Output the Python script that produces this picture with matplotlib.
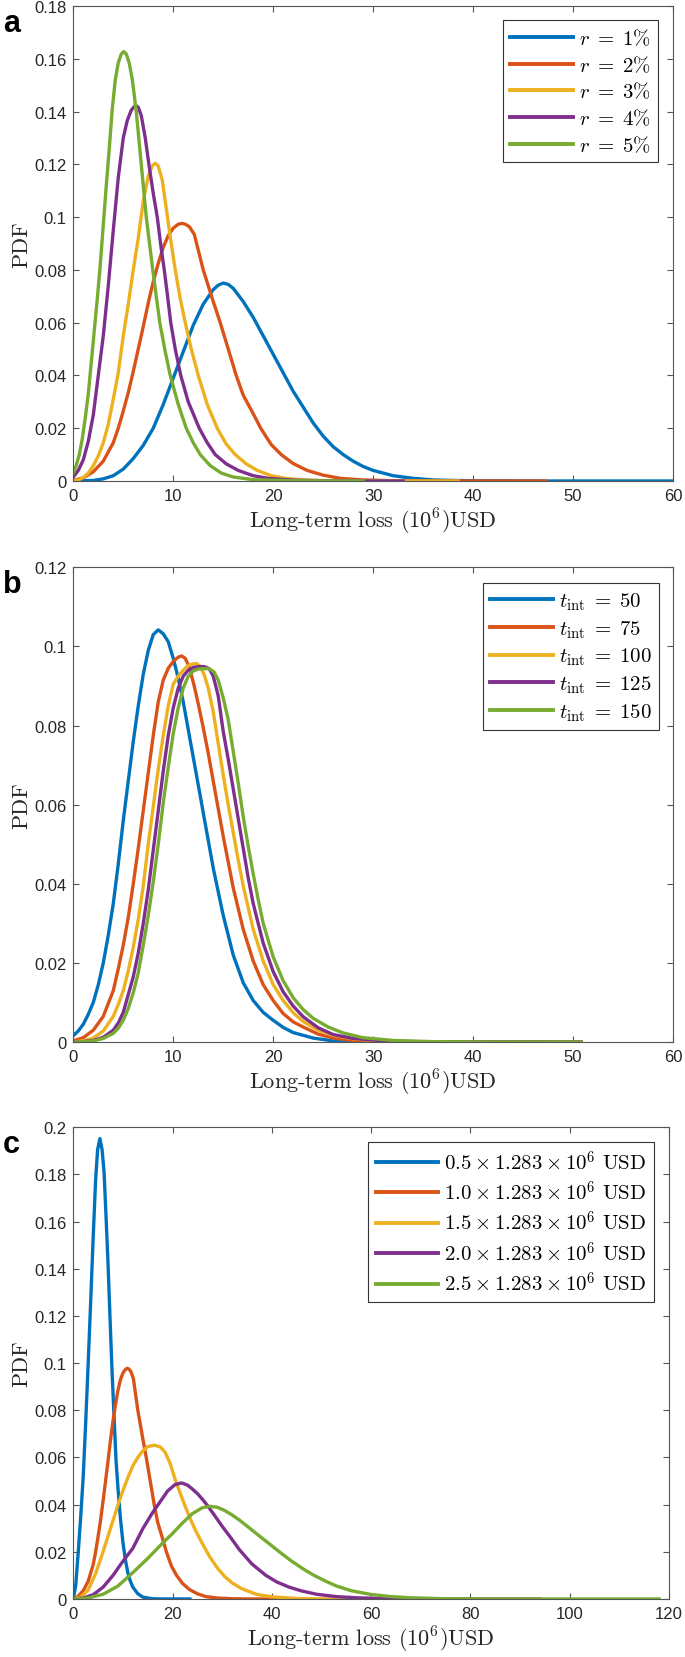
import numpy as np
import matplotlib
matplotlib.use("Agg")
import matplotlib.pyplot as plt
from matplotlib.ticker import FuncFormatter

plt.rcParams["mathtext.fontset"] = "cm"
plt.rcParams["font.family"] = ["Liberation Sans", "DejaVu Sans"]

# ---- panel a: discount rate r ----
a_labels = [r"$r\;=\;1\%$", r"$r\;=\;2\%$", r"$r\;=\;3\%$", r"$r\;=\;4\%$", r"$r\;=\;5\%$"]
a_x_r1 = [0, 2, 3, 4, 5, 6, 7, 8, 9, 10, 11, 12, 13, 14, 14.5, 15, 15.5, 16, 17, 18, 19, 20, 21, 22, 23,
          24, 25, 26, 27, 28, 29, 30, 32, 34, 36, 38, 40, 47.3, 60]
a_y_r1 = [0, 0.0002, 0.0008, 0.002, 0.0045, 0.0085, 0.0135, 0.020, 0.029, 0.039, 0.049, 0.059, 0.067,
          0.0725, 0.0742, 0.075, 0.0745, 0.073, 0.068, 0.062, 0.055, 0.048, 0.041, 0.034, 0.028, 0.022,
          0.017, 0.013, 0.010, 0.0075, 0.0055, 0.004, 0.002, 0.001, 0.0004, 0.0002, 0.0001, 0, 0]
a_x_r2 = [0, 1, 2, 3, 4, 4.5, 5, 5.5, 6, 6.5, 7, 7.5, 8, 8.5, 9, 9.5, 10, 10.5, 10.85, 11.2, 11.6, 12.1,
          12.5, 13, 13.5, 14, 14.7, 15.5, 16.3, 17, 18, 18.75, 19.8, 20.8, 22, 23.4, 25, 26.7, 29, 32, 36, 47.3]
a_y_r2 = [0.0002, 0.0012, 0.0035, 0.0075, 0.0145, 0.020, 0.0265, 0.0335, 0.0415, 0.050, 0.0585, 0.0675,
          0.0755, 0.0825, 0.0885, 0.093, 0.0958, 0.0973, 0.0976, 0.0973, 0.0964, 0.0935, 0.0875, 0.080,
          0.074, 0.068, 0.060, 0.050, 0.040, 0.0325, 0.0255, 0.020, 0.0138, 0.010, 0.0066, 0.004, 0.0022,
          0.001, 0.0004, 0.0001, 0, 0]
a_x_r3 = [0, 0.5, 1, 1.5, 2, 2.5, 3, 3.5, 4, 4.5, 5, 5.5, 6, 6.5, 7, 7.5, 7.9, 8.2, 8.5, 8.9, 9.4, 9.8,
          10.2, 10.7, 11.2, 11.8, 12.5, 13.4, 14.4, 15.3, 16.2, 17.3, 18.4, 19.8, 21.2, 23, 25, 28, 32, 38.5]
a_y_r3 = [0, 0.0004, 0.0013, 0.003, 0.0058, 0.0095, 0.0145, 0.0215, 0.031, 0.041, 0.055, 0.067, 0.080,
          0.092, 0.106, 0.1155, 0.1195, 0.1204, 0.1193, 0.114, 0.1006, 0.090, 0.080, 0.069, 0.060, 0.050,
          0.040, 0.029, 0.020, 0.014, 0.010, 0.0065, 0.004, 0.002, 0.001, 0.0004, 0.00015, 0.00003, 0, 0]
a_x_r4 = [0, 0.5, 1, 1.5, 2, 2.5, 3, 3.5, 4, 4.5, 5, 5.4, 5.8, 6.1, 6.3, 6.5, 6.8, 7.2, 7.6, 8, 8.4, 8.8,
          9.1, 9.4, 9.75, 10.2, 10.75, 11.5, 12.6, 13.4, 14.2, 15.3, 16.5, 18, 19.5, 22, 25, 29, 33]
a_y_r4 = [0.0015, 0.004, 0.008, 0.015, 0.025, 0.040, 0.055, 0.074, 0.095, 0.115, 0.130, 0.1366, 0.1405,
          0.1419, 0.1422, 0.1416, 0.1385, 0.130, 0.119, 0.109, 0.100, 0.088, 0.080, 0.071, 0.060, 0.050,
          0.040, 0.030, 0.020, 0.0145, 0.010, 0.0065, 0.004, 0.002, 0.001, 0.0003, 0.0001, 0, 0]
a_x_r5 = [0, 0.3, 0.6, 0.9, 1.2, 1.5, 1.8, 2.1, 2.4, 2.7, 3.0, 3.3, 3.6, 3.9, 4.2, 4.5, 4.8, 5.05, 5.3, 5.6,
          5.9, 6.3, 6.8, 7.3, 7.95, 8.65, 9.2, 9.7, 10.5, 11.3, 12, 12.7, 13.7, 14.8, 16, 18, 22, 29]
a_y_r5 = [0.003, 0.006, 0.010, 0.016, 0.024, 0.033, 0.045, 0.057, 0.069, 0.082, 0.097, 0.112, 0.126,
          0.141, 0.152, 0.1585, 0.1618, 0.1627, 0.1618, 0.1583, 0.1522, 0.140, 0.120, 0.100, 0.080, 0.060,
          0.049, 0.040, 0.029, 0.020, 0.0145, 0.010, 0.0058, 0.003, 0.0015, 0.0005, 0.0001, 0]

# ---- panel b: intervention time ----
b_labels = [r"$t_{\mathrm{int}}\;=\;50$", r"$t_{\mathrm{int}}\;=\;75$", r"$t_{\mathrm{int}}\;=\;100$",
            r"$t_{\mathrm{int}}\;=\;125$", r"$t_{\mathrm{int}}\;=\;150$"]
b_x_50 = [0, 0.5, 1, 1.5, 2, 2.5, 3, 3.5, 4, 4.5, 5, 5.5, 6, 6.5, 7, 7.5, 8, 8.5, 9, 9.5, 10, 10.5, 11,
          11.5, 12, 12.5, 13, 13.5, 14, 14.5, 15, 16, 17, 18, 19, 20, 21, 22, 24, 26, 30, 50.8]
b_y_50 = [0.0016, 0.0028, 0.0045, 0.007, 0.010, 0.0145, 0.020, 0.027, 0.035, 0.045, 0.056, 0.066, 0.076,
          0.085, 0.093, 0.099, 0.1030, 0.1042, 0.1032, 0.1012, 0.097, 0.092, 0.086, 0.079, 0.072, 0.065,
          0.058, 0.051, 0.044, 0.038, 0.032, 0.022, 0.015, 0.0105, 0.0075, 0.0055, 0.0037, 0.0024, 0.001,
          0.0003, 0, 0]
b_x_75 = [0, 1, 2, 3, 4, 4.5, 5, 5.5, 6, 6.5, 7, 7.5, 8, 8.5, 9, 9.5, 10, 10.5, 10.85, 11.2, 11.6, 12.1,
          12.5, 13, 13.5, 14, 14.5, 15, 15.5, 16, 17, 18, 19, 20, 21, 22, 23, 24.5, 26, 28, 32, 36, 50.8]
b_y_75 = [0.0003, 0.0011, 0.003, 0.0065, 0.013, 0.0185, 0.0245, 0.0315, 0.040, 0.049, 0.0585, 0.068,
          0.0775, 0.086, 0.0915, 0.0945, 0.0962, 0.0973, 0.0976, 0.0970, 0.0948, 0.090, 0.0855, 0.0795,
          0.073, 0.066, 0.059, 0.052, 0.0455, 0.039, 0.0285, 0.0205, 0.0145, 0.0105, 0.0072, 0.0051, 0.0038,
          0.002, 0.001, 0.0004, 0.0001, 0, 0]
b_x_100 = [0, 1, 2, 3, 4, 4.5, 5, 5.5, 6, 6.5, 7, 7.5, 8, 8.5, 9, 9.5, 10, 10.5, 11, 11.5, 12, 12.3, 12.7,
           13.1, 13.5, 14, 14.5, 15, 15.5, 16, 16.5, 17, 18, 19, 20, 21, 22, 23, 24.5, 26, 28, 31, 35, 50.8]
b_y_100 = [0, 0.0003, 0.001, 0.0028, 0.0065, 0.0095, 0.013, 0.018, 0.024, 0.031, 0.0395, 0.050, 0.0595,
           0.069, 0.0775, 0.085, 0.0905, 0.0925, 0.094, 0.0952, 0.0956, 0.0957, 0.095, 0.0928, 0.0895,
           0.0835, 0.0755, 0.0675, 0.060, 0.053, 0.046, 0.0395, 0.0285, 0.0205, 0.0145, 0.0105, 0.0074,
           0.0052, 0.003, 0.0017, 0.0008, 0.0002, 0.00005, 0]
b_x_125 = [0, 1, 2, 3, 4, 4.5, 5, 5.5, 6, 6.5, 7, 7.5, 8, 8.5, 9, 9.5, 10, 10.5, 11, 11.5, 12, 12.5, 13.1,
           13.6, 14, 14.5, 15, 15.5, 16, 16.5, 17, 17.5, 18, 19, 20, 21, 22, 23, 24.5, 26, 28, 31, 35, 50.8]
b_y_125 = [0, 0.0001, 0.0004, 0.0012, 0.003, 0.0048, 0.0075, 0.012, 0.0165, 0.0225, 0.030, 0.0385, 0.0485,
           0.0585, 0.0685, 0.0775, 0.0845, 0.0895, 0.0925, 0.094, 0.0947, 0.0949, 0.0949, 0.0944, 0.0925,
           0.0875, 0.0785, 0.0715, 0.064, 0.0565, 0.049, 0.0415, 0.035, 0.025, 0.0178, 0.0127, 0.0091,
           0.0064, 0.0036, 0.0019, 0.0009, 0.0003, 0.00007, 0]
b_x_150 = [0, 1, 2, 3, 4, 4.5, 5, 5.5, 6, 6.5, 7, 7.5, 8, 8.5, 9, 9.5, 10, 10.5, 11, 11.5, 12, 12.5, 13,
           13.6, 14.1, 14.5, 15, 15.5, 16, 16.5, 17, 17.5, 18, 18.5, 19, 20, 21, 22, 23, 24, 25.5, 27, 29,
           32, 36, 42, 50.8]
b_y_150 = [0, 0.0001, 0.0003, 0.0009, 0.0022, 0.0035, 0.0055, 0.0085, 0.0125, 0.0175, 0.0245, 0.032,
           0.0405, 0.050, 0.0605, 0.0695, 0.078, 0.0845, 0.0895, 0.0925, 0.0938, 0.0943, 0.0944, 0.0944,
           0.0935, 0.0915, 0.087, 0.0815, 0.0735, 0.0655, 0.057, 0.0495, 0.0425, 0.036, 0.030, 0.0215,
           0.0155, 0.0112, 0.0082, 0.006, 0.0038, 0.0023, 0.0011, 0.0004, 0.0001, 0, 0]

# ---- panel c: cost scaling ----
c_labels = [r"$0.5 \times 1.283 \times 10^6$ USD", r"$1.0 \times 1.283 \times 10^6$ USD",
            r"$1.5 \times 1.283 \times 10^6$ USD", r"$2.0 \times 1.283 \times 10^6$ USD",
            r"$2.5 \times 1.283 \times 10^6$ USD"]
c_x_05 = [0, 0.5, 1, 1.5, 2, 2.5, 3, 3.5, 4, 4.5, 4.9, 5.36, 5.8, 6.2, 6.6, 7, 7.4, 7.8, 8.2, 8.6, 9, 9.5,
          10, 10.5, 11, 11.5, 12, 13, 14, 16, 18, 23.5]
c_y_05 = [0, 0.006, 0.020, 0.035, 0.052, 0.075, 0.100, 0.126, 0.153, 0.178, 0.1905, 0.1952, 0.1905, 0.181,
          0.162, 0.142, 0.119, 0.097, 0.078, 0.059, 0.047, 0.034, 0.024, 0.0165, 0.011, 0.0075, 0.005,
          0.0022, 0.0008, 0.0001, 0, 0]
c_x_10 = [0, 1, 2, 3, 4, 4.5, 5, 5.5, 6, 6.5, 7, 7.5, 8, 8.5, 9, 9.5, 10, 10.5, 10.85, 11.2, 11.6, 12.1,
          12.5, 13, 13.5, 14, 14.7, 15.5, 16.3, 17, 18, 18.75, 19.8, 20.8, 22, 23.4, 25, 26.7, 29, 32, 36, 47]
c_y_10 = [0, 0.0012, 0.0035, 0.0075, 0.0145, 0.020, 0.0265, 0.0335, 0.0415, 0.050, 0.0585, 0.0675,
          0.0755, 0.0825, 0.0885, 0.093, 0.0958, 0.0973, 0.0978, 0.0975, 0.0964, 0.0935, 0.0875, 0.080,
          0.074, 0.068, 0.060, 0.050, 0.040, 0.0325, 0.0255, 0.020, 0.0138, 0.010, 0.0066, 0.004, 0.0022,
          0.001, 0.0004, 0.0001, 0, 0]
c_x_15 = [0, 1.5, 3, 4.5, 6, 7.5, 9, 10, 11, 12, 13, 14, 15, 16.3, 17.5, 18.5, 19.5, 20.5, 21.5, 22.5, 23.5,
          24.5, 26, 27.5, 29, 30.5, 32, 34, 37, 40, 45, 50, 70.5]
c_y_15 = [0, 0.0008, 0.0038, 0.0108, 0.020, 0.030, 0.0398, 0.046, 0.0515, 0.0565, 0.060, 0.0628, 0.0646,
          0.0652, 0.0645, 0.0622, 0.0575, 0.0508, 0.045, 0.0395, 0.0343, 0.0296, 0.0235, 0.0178, 0.0132,
          0.0095, 0.0068, 0.0043, 0.0019, 0.0009, 0.0002, 0.00005, 0]
c_x_20 = [0, 2, 4, 6, 8, 10, 12, 14, 16, 17.5, 19, 20.5, 21.8, 23, 24, 25, 26, 27, 28.5, 30, 31.5, 33.5,
          36, 38.8, 41, 43.5, 46, 49, 53, 57, 62, 70, 94]
c_y_20 = [0, 0.0004, 0.0018, 0.005, 0.010, 0.016, 0.0215, 0.0298, 0.0367, 0.0412, 0.0458, 0.0485, 0.0492,
          0.0483, 0.0466, 0.0447, 0.0423, 0.0397, 0.0353, 0.0308, 0.0266, 0.0208, 0.0148, 0.010, 0.0072,
          0.005, 0.0034, 0.002, 0.001, 0.0005, 0.0002, 0, 0]
c_x_25 = [0, 3, 6, 9, 12, 15, 18, 20, 22, 24, 26, 27.5, 29, 30.5, 32, 33.5, 35, 37, 39, 41.5, 44, 46.5,
          48.5, 51, 53, 56, 60, 64, 68, 75, 85, 118]
c_y_25 = [0, 0.0004, 0.002, 0.0055, 0.0112, 0.0172, 0.0237, 0.0278, 0.0322, 0.0362, 0.0387, 0.0393,
          0.0389, 0.0375, 0.0356, 0.0334, 0.0309, 0.0275, 0.0242, 0.020, 0.016, 0.0125, 0.010, 0.0074,
          0.0055, 0.0035, 0.0019, 0.001, 0.0005, 0.0001, 0, 0]

colors = ["#0072BD", "#D95319", "#EDB120", "#7E2F8E", "#77AC30"]

panels = [
    dict(tag="a", rect=[0.107, 0.7093, 0.8755, 0.2865], xmax=60, xstep=10, ymax=0.18, ystep=0.02,
         series=[(a_x_r1, a_y_r1), (a_x_r2, a_y_r2), (a_x_r3, a_y_r3), (a_x_r4, a_y_r4), (a_x_r5, a_y_r5)],
         labels=a_labels, anchor=(0.975, 0.970)),
    dict(tag="b", rect=[0.107, 0.3709, 0.8755, 0.2863], xmax=60, xstep=10, ymax=0.12, ystep=0.02,
         series=[(b_x_50, b_y_50), (b_x_75, b_y_75), (b_x_100, b_y_100), (b_x_125, b_y_125), (b_x_150, b_y_150)],
         labels=b_labels, anchor=(0.9765, 0.967)),
    dict(tag="c", rect=[0.107, 0.0350, 0.8696, 0.2845], xmax=120, xstep=20, ymax=0.2, ystep=0.02,
         series=[(c_x_05, c_y_05), (c_x_10, c_y_10), (c_x_15, c_y_15), (c_x_20, c_y_20), (c_x_25, c_y_25)],
         labels=c_labels, anchor=(0.975, 0.969)),
]

fig = plt.figure(figsize=(6.85, 16.58), dpi=100)
tick_fmt = FuncFormatter(lambda v, pos: "%g" % round(v, 4))

for p in panels:
    ax = fig.add_axes(p["rect"])
    for (xs, ys), col, lab in zip(p["series"], colors, p["labels"]):
        ax.plot(xs, ys, color=col, lw=2.4, label=lab, solid_joinstyle="round")
    ax.set_xlim(0, p["xmax"])
    ax.set_ylim(0, p["ymax"])
    ax.set_xticks(np.arange(0, p["xmax"] + 0.1, p["xstep"]))
    ax.set_yticks(np.arange(0, p["ymax"] + 1e-9, p["ystep"]))
    ax.xaxis.set_major_formatter(tick_fmt)
    ax.yaxis.set_major_formatter(tick_fmt)
    ax.tick_params(direction="in", top=True, right=True, length=4.5, width=0.8,
                   labelsize=12, colors="#555555", labelcolor="#262626", pad=5)
    for s in ax.spines.values():
        s.set_color("#555555")
        s.set_linewidth(0.8)
    ax.set_xlabel(r"Long-term loss $(10^6)$USD", family="cmr10", fontsize=16, color="#262626", labelpad=2)
    ax.set_ylabel("PDF", family="cmr10", fontsize=16, color="#262626", labelpad=2)
    leg = ax.legend(loc="upper right", bbox_to_anchor=p["anchor"], prop={"family": "cmr10", "size": 15},
                    handlelength=3.0, handletextpad=0.3, labelspacing=0.3, borderpad=0.35,
                    borderaxespad=0, fancybox=False, framealpha=1)
    leg.get_frame().set_edgecolor("#333333")
    leg.get_frame().set_linewidth(0.8)
    for ln in leg.get_lines():
        ln.set_linewidth(2.8)
    # panel letter
    bbox = p["rect"]
    fig.text(0.004, bbox[1] + bbox[3] - 0.001, p["tag"], fontsize=22, fontweight="bold",
             family="Liberation Sans", va="top", ha="left")

fig.savefig("out.png", dpi=100)
